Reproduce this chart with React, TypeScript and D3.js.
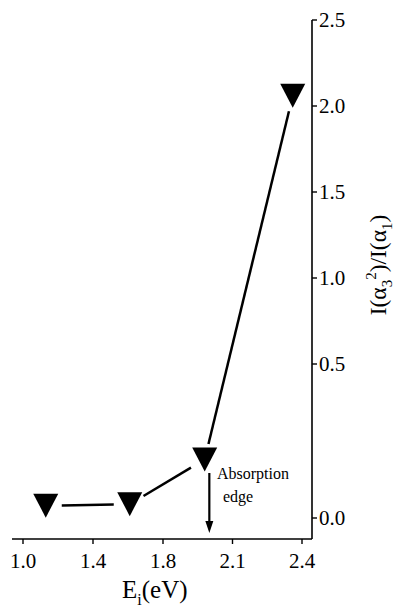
import React from "react";
import * as d3 from "d3";

const xTickValues = [1.0, 1.4, 1.8, 2.1, 2.4];
const xTickLabels = ["1.0", "1.4", "1.8", "2.1", "2.4"];
const yTickValues = [0, 0.5, 1.0, 1.5, 2.0, 2.5];
const yTickLabels = ["0.0", "0.5", "1.0", "1.5", "2.0", "2.5"];
const energy = [1.13, 1.61, 1.98, 2.36];
const ratio = [0.04, 0.045, 0.19, 2.06];
const edgeEnergy = 2.0;

const W = 395;
const H = 612;
const FONT = '"Liberation Serif", "DejaVu Serif", serif';

export default function App() {
  const x = d3.scaleLinear().domain([1.0, 1.8, 2.4]).range([23, 163, 302]);
  const y = d3.scaleLinear().domain([0, 0.5, 2.5]).range([518, 364, 20]);
  const axisX = 312;
  const axisY = 539;
  const pts = energy.map((e, i) => [x(e), y(ratio[i])] as [number, number]);
  const gap = 16;
  const segs = pts.slice(1).map((p, i) => {
    const a = pts[i];
    const dx = p[0] - a[0];
    const dy = p[1] - a[1];
    const L = Math.hypot(dx, dy);
    const ux = dx / L, uy = dy / L;
    return [a[0] + ux * gap, a[1] + uy * gap, p[0] - ux * gap, p[1] - uy * gap];
  });
  const tri = "M-12.5,-12L12.5,-12L0,12Z";
  const ex = x(edgeEnergy);
  return (
    <svg width={W} height={H} style={{ position: "absolute", left: 0, top: 0, fontFamily: FONT }}>
      <rect width={W} height={H} fill="#fff" />
      <line x1={12} x2={axisX} y1={axisY} y2={axisY} stroke="#000" strokeWidth={1.6} />
      <line x1={axisX} x2={axisX} y1={20} y2={axisY} stroke="#000" strokeWidth={1.6} />
      {xTickValues.map((v, i) => (
        <g key={"xt" + i}>
          <line x1={x(v)} x2={x(v)} y1={axisY} y2={axisY + 5} stroke="#000" strokeWidth={1.4} />
          <text x={x(v)} y={568} fontSize={21} textAnchor="middle" style={{ fontFamily: FONT }}>{xTickLabels[i]}</text>
        </g>
      ))}
      {yTickValues.map((v, i) => (
        <g key={"yt" + i}>
          <line x1={axisX} x2={axisX + 5} y1={y(v)} y2={y(v)} stroke="#000" strokeWidth={1.4} />
          <text x={axisX + 7} y={y(v) + 7} fontSize={21} style={{ fontFamily: FONT }}>{yTickLabels[i]}</text>
        </g>
      ))}
      <text x={122} y={598} fontSize={25} style={{ fontFamily: FONT }}>
        E<tspan fontSize={16} dy={7}>i</tspan><tspan dy={-7}>(eV)</tspan>
      </text>
      <text transform="translate(386,265) rotate(-90)" fontSize={23.5} textAnchor="middle" style={{ fontFamily: FONT }}>
        I(α<tspan fontSize={15} dy={6}>3</tspan><tspan fontSize={15} dy={-16}>2</tspan><tspan dy={10}>)/I(α</tspan><tspan fontSize={15} dy={6}>1</tspan><tspan dy={-6}>)</tspan>
      </text>
      {segs.map((s, i) => (
        <line key={"s" + i} x1={s[0]} y1={s[1]} x2={s[2]} y2={s[3]} stroke="#000" strokeWidth={2.5} />
      ))}
      {pts.map((p, i) => (
        <path key={"m" + i} d={tri} transform={`translate(${p[0]},${p[1]})`} fill="#000" />
      ))}
      <line x1={ex} x2={ex} y1={473} y2={524} stroke="#000" strokeWidth={2.2} />
      <path d={`M${ex - 4},${521}L${ex + 4},${521}L${ex},${533}Z`} fill="#000" />
      <text x={217} y={479} fontSize={16} style={{ fontFamily: FONT }}>Absorption</text>
      <text x={223} y={502} fontSize={16} style={{ fontFamily: FONT }}>edge</text>
    </svg>
  );
}
